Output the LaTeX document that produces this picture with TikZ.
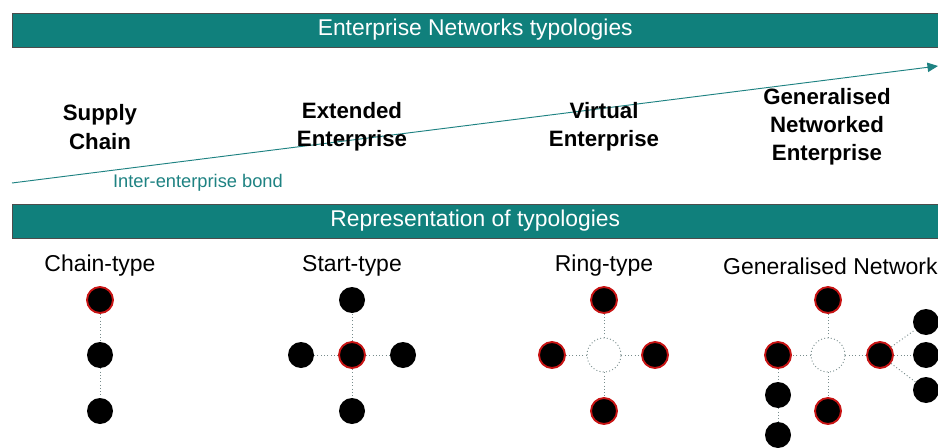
\documentclass[tikz,border=0pt]{standalone}
\usepackage{fontspec}
\setmainfont{Liberation Sans}
\usetikzlibrary{arrows.meta}
\definecolor{tealbar}{RGB}{16,128,124}
\definecolor{tealline}{RGB}{30,130,130}
\definecolor{dotgray}{RGB}{120,140,140}
\definecolor{rimred}{RGB}{200,20,20}

\tikzset{
  bar/.style={draw=black!70, fill=tealbar, text=white, minimum height=1.02cm, minimum width=27.78cm, inner sep=0pt, font=\fontsize{19.5}{22}\selectfont},
  kind/.style={align=center, font=\bfseries\fontsize{19}{24}\selectfont},
  repr/.style={font=\fontsize{19.6}{22}\selectfont},
  dot/.style={circle, fill=black, minimum size=0.78cm, inner sep=0pt},
  hub/.style={dot, draw=rimred, line width=1.6pt},
  ring/.style={circle, draw=dotgray, dotted, thick, minimum size=1.02cm, inner sep=0pt},
  link/.style={draw=dotgray, dotted, thick}
}

\begin{document}
\begin{tikzpicture}[x=0.03cm, y=-0.03cm]
    \useasboundingbox (0,0) rectangle (938,448);

    % banners
    \node [bar, anchor=west] (top) at (12,30) {Enterprise Networks typologies};
    \node [bar, anchor=west] (mid) at (12,221) {Representation of typologies};

    % bond arrow
    \coordinate (b0) at (12,183);
    \coordinate (b1) at (938,66);
    \draw [tealline, thick, -{Triangle[length=9pt, width=8pt]}] (b0) -- (b1);
    \node [text=tealline, font=\fontsize{15.6}{18}\selectfont] (bond) at (198,183) {Inter-enterprise bond};

    \node [kind] (sc) at (100,127) {Supply\\Chain};
    \node [kind] (ee) at (352,127) {Extended\\Enterprise};
    \node [kind] (ve) at (604,127) {Virtual\\Enterprise};
    \node [kind] (gne) at (827,127) {Generalised\\Networked\\Enterprise};

    \node [repr] (lc) at (100,266) {Chain-type};
    \node [repr] (ls) at (352,266) {Start-type};
    \node [repr] (lr) at (604,266) {Ring-type};
    \node [repr, anchor=west] (lg) at (719,266) {Generalised Network};

    % chain
    \node [hub] (c1) at (100,300) {};
    \node [dot] (c2) at (100,355) {};
    \node [dot] (c3) at (100,411) {};
    \draw [link] (c1) -- (c2) (c2) -- (c3);

    % star
    \node [hub] (s0) at (352,355) {};
    \node [dot] (sn) at (352,300) {};
    \node [dot] (ss) at (352,411) {};
    \node [dot] (sw) at (301,355) {};
    \node [dot] (se) at (403,355) {};
    \foreach \n in {sn,ss,sw,se}
      \draw [link] (s0) -- (\n);

    % ring
    \node [ring] (r0) at (604,355) {};
    \node [hub] (rn) at (604,300) {};
    \node [hub] (rs) at (604,411) {};
    \node [hub] (rw) at (552,355) {};
    \node [hub] (re) at (655,355) {};
    \foreach \n in {rn,rs,rw,re}
      \draw [link] (r0) -- (\n);

    % generalised network
    \node [ring] (g0) at (828,355) {};
    \node [hub] (gn) at (828,300) {};
    \node [hub] (gs) at (828,411) {};
    \node [hub] (gw) at (778,355) {};
    \node [hub] (ge) at (880,355) {};
    \foreach \n in {gn,gs,gw,ge}
      \draw [link] (g0) -- (\n);
    \node [dot] (gw1) at (778,395) {};
    \node [dot] (gw2) at (778,435) {};
    \draw [link] (gw) -- (gw1) (gw1) -- (gw2);
    \node [dot] (ge1) at (926,322) {};
    \node [dot] (ge2) at (926,355) {};
    \node [dot] (ge3) at (926,390) {};
    \foreach \n in {ge1,ge2,ge3}
      \draw [link] (ge) -- (\n);
\end{tikzpicture}
\end{document}
